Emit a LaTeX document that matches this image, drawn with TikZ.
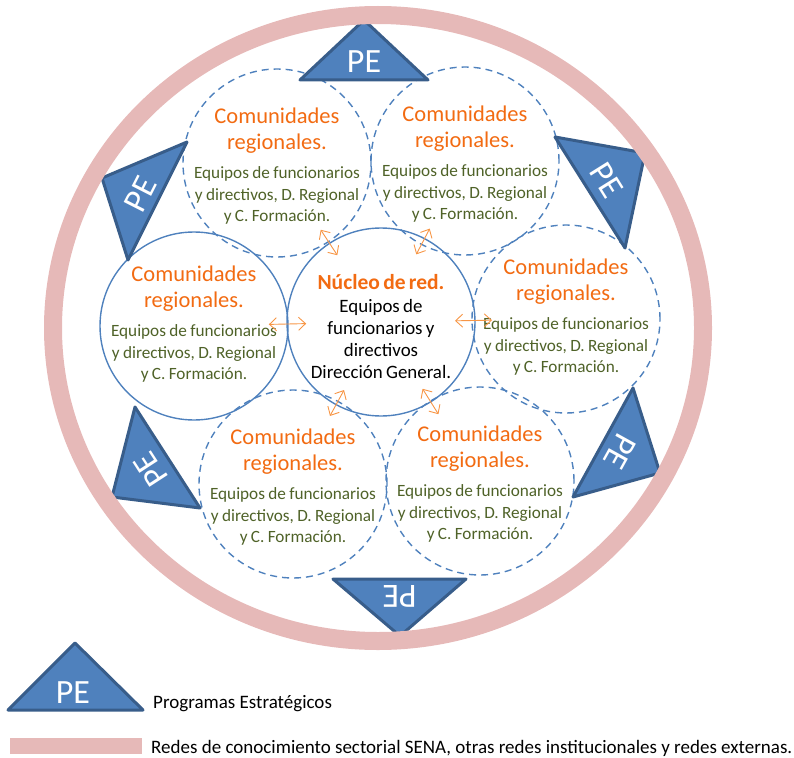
\documentclass[tikz,border=0pt]{standalone}
\usepackage{fontspec}
\setmainfont{Carlito}
\usetikzlibrary{arrows.meta,calc}
\definecolor{ringpink}{HTML}{E6B9B8}
\definecolor{pefill}{HTML}{4F81BD}
\definecolor{peline}{HTML}{385D8A}
\definecolor{cblue}{HTML}{4F81BD}
\definecolor{corange}{HTML}{F26B12}
\definecolor{aorange}{HTML}{F79646}
\definecolor{cgreen}{HTML}{4F6228}
\newcommand{\comtxt}{{\fontsize{22.5}{26}\selectfont\color{corange}Comunidades\\regionales.\par}\vspace{8pt}{\fontsize{17.2}{21.5}\selectfont\color{cgreen}Equipos de funcionarios\\y directivos, D. Regional\\y C. Formación.\par}}
\newcommand{\petri}[4]{%
  \draw[petri] #1 -- #2 -- #3 -- cycle;
  \node[petext, rotate=#4] at ($($#1!0.5!#2$)!0.3!#3$) {PE};
}
\tikzset{
  solidcirc/.style={circle, draw=cblue, line width=1.4pt, minimum size=188pt, inner sep=0pt},
  dashcirc/.style={circle, draw=cblue, line width=1.4pt, dash pattern=on 7pt off 5pt, minimum size=188pt, inner sep=0pt},
  comtext/.style={text width=172pt, align=center, inner sep=0pt},
  petri/.style={fill=pefill, draw=peline, line width=3pt, line join=round},
  petext/.style={text=white, font=\fontsize{34}{34}\selectfont, inner sep=0pt},
  darr/.style={aorange, line width=0.9pt, {Straight Barb[length=7pt,width=13pt]}-{Straight Barb[length=7pt,width=13pt]}},
  legtext/.style={anchor=base west, font=\fontsize{19}{20}\selectfont, inner sep=0pt},
}
\begin{document}
\begin{tikzpicture}[x=1pt, y=-1pt]
\useasboundingbox (0,0) rectangle (794,757);
% circles
\node[solidcirc] (core) at (381,322) {};
\node[solidcirc] (L) at (194,326) {};
\node[dashcirc] (R) at (566,319) {};
\node[dashcirc] (TL) at (277,163) {};
\node[dashcirc] (TR) at (465,161) {};
\node[dashcirc] (BL) at (293,484) {};
\node[dashcirc] (BR) at (480,481) {};
% triangles
\petri{(300,80)}{(428,80)}{(364,20)}{0}
\petri{(187,142)}{(128,260)}{(102,178)}{63}
\petri{(555,137)}{(625,248)}{(645,153)}{-58}
\petri{(633,388)}{(573,497)}{(660,473)}{-119}
\petri{(333,579)}{(466,579)}{(400,636)}{180}
\petri{(135,407)}{(200,508)}{(112,497)}{123}
% ring
\draw[ringpink, line width=18pt] (378,328) ellipse [x radius=325pt, y radius=313pt];
% texts
\node[comtext] at ($(L)+(0,-2)$) {\comtxt};
\node[comtext] at ($(R)+(0,-2)$) {\comtxt};
\node[comtext] at ($(TL)+(0,3)$) {\comtxt};
\node[comtext] at ($(TR)+(0,3)$) {\comtxt};
\node[comtext] at ($(BL)+(0,3)$) {\comtxt};
\node[comtext] at ($(BR)+(0,3)$) {\comtxt};
\node[comtext] at ($(core)+(0,5)$) {{\fontsize{21.5}{25}\selectfont\bfseries\color{corange}Núcleo de red.\par}\vspace{1pt}{\fontsize{18.9}{22}\selectfont Equipos de\\funcionarios y\\directivos\\Dirección General.\par}};
% arrows
\draw[darr] ($(core)!0.4!(L)$) -- ($(core)!0.6!(L)$);
\draw[darr] ($(core)!0.4!(R)$) -- ($(core)!0.6!(R)$);
\draw[darr] ($(core)!0.42!(TL)$) -- ($(core)!0.58!(TL)$);
\draw[darr] ($(core)!0.42!(TR)$) -- ($(core)!0.58!(TR)$);
\draw[darr] ($(core)!0.42!(BL)$) -- ($(core)!0.58!(BL)$);
\draw[darr] ($(core)!0.42!(BR)$) -- ($(core)!0.58!(BR)$);
% legend
\draw[petri] (8,710) -- (143,710) -- (75,643) -- cycle;
\node[petext] (lpe) at (73,693) {PE};
\node[legtext] (ltxt1) at (153,708) {Programas Estratégicos};
\fill[ringpink] (10,738) rectangle (142,754);
\node[legtext] (ltxt2) at (151,753) {Redes de conocimiento sectorial SENA, otras redes institucionales y redes externas.};
\end{tikzpicture}
\end{document}
